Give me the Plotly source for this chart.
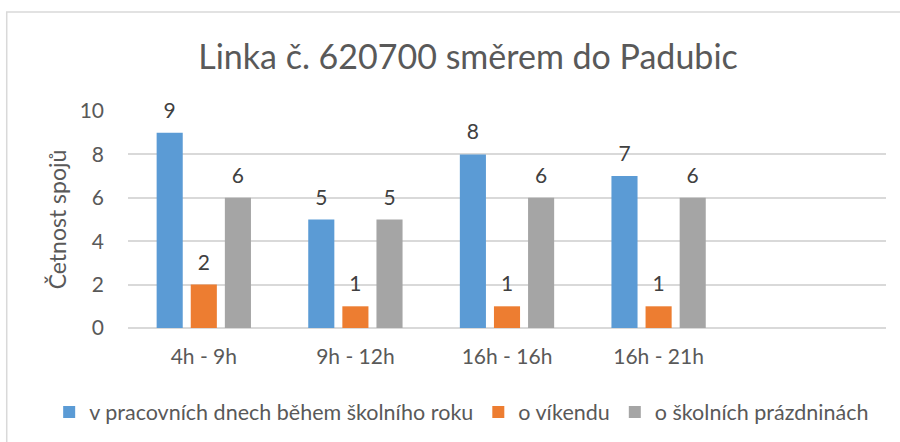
import plotly.graph_objects as go

categories = ["4h - 9h", "9h - 12h", "16h - 16h", "16h - 21h"]
series_names = [
    "v pracovních dnech během školního roku",
    "o víkendu",
    "o školních prázdninách",
]
weekday_school = [9, 5, 8, 7]
weekend = [2, 1, 1, 1]
school_holidays = [6, 5, 6, 6]

colours = ["#5B9BD5", "#ED7D31", "#A5A5A5"]
FONT = "Lato, Carlito, Calibri, sans-serif"
TEXT_GREY = "#595959"

fig = go.Figure()
series = [weekday_school, weekend, school_holidays]
for name, values, colour in zip(series_names, series, colours):
    fig.add_trace(
        go.Bar(
            x=categories,
            y=values,
            name=name,
            marker=dict(color=colour, line=dict(width=0)),
        )
    )

# value labels: grouped text-only scatters so they sit over their bars with Excel-like padding
for name, values in zip(series_names, series):
    fig.add_trace(
        go.Scatter(
            x=categories,
            y=values,
            mode="markers+text",
            text=values,
            textposition="top center",
            textfont=dict(size=21, color="#404040", family=FONT),
            marker=dict(size=14, color="rgba(0,0,0,0)"),
            showlegend=False,
            hoverinfo="skip",
            cliponaxis=False,
        )
    )

# light frame around the whole chart (open to the right and bottom, as in the source)
fig.add_shape(
    type="rect",
    xref="paper",
    yref="paper",
    x0=-0.160,
    x1=1.03,
    y0=-0.60,
    y1=1.456,
    line=dict(color="#D9D9D9", width=1.5),
    fillcolor="rgba(0,0,0,0)",
    layer="below",
)

fig.update_layout(
    width=900,
    height=442,
    margin=dict(l=128, r=14, t=111, b=114, autoexpand=False),
    paper_bgcolor="white",
    plot_bgcolor="white",
    font=dict(family=FONT, color=TEXT_GREY),
    title=dict(
        text="Linka č. 620700 směrem do Padubic",
        font=dict(size=34, color=TEXT_GREY, family=FONT),
        x=0.52,
        xanchor="center",
        xref="container",
        y=0.871,
        yanchor="middle",
        yref="container",
    ),
    barmode="group",
    bargap=0.325,
    bargroupgap=0.235,
    scattermode="group",
    scattergap=0.325,
    showlegend=True,
    # anchored left of the plot area and below it, so plotly lets it span the full width
    legend=dict(
        orientation="h",
        x=-0.104,
        xanchor="left",
        y=-0.387,
        yanchor="middle",
        font=dict(size=21.5, color=TEXT_GREY, family=FONT),
        itemwidth=30,
        tracegroupgap=0,
    ),
    xaxis=dict(
        type="category",
        range=[-0.5, 4.5],
        showgrid=False,
        showline=False,
        zeroline=False,
        ticks="",
        tickfont=dict(size=21, color=TEXT_GREY, family=FONT),
        ticklabelstandoff=14,
    ),
    yaxis=dict(
        range=[0, 10],
        dtick=2,
        showgrid=True,
        gridcolor="#D9D9D9",
        gridwidth=1.5,
        zeroline=True,
        zerolinecolor="#D9D9D9",
        zerolinewidth=1.5,
        showline=False,
        ticks="",
        tickfont=dict(size=21, color=TEXT_GREY, family=FONT),
        ticklabelstandoff=23,
        title=dict(
            text="Četnost spojů",
            font=dict(size=23, color=TEXT_GREY, family=FONT),
            standoff=6,
        ),
    ),
)

fig.write_html(
    "out.html",
    config={"displayModeBar": False},
    post_script="document.body.style.margin='0';",
)
